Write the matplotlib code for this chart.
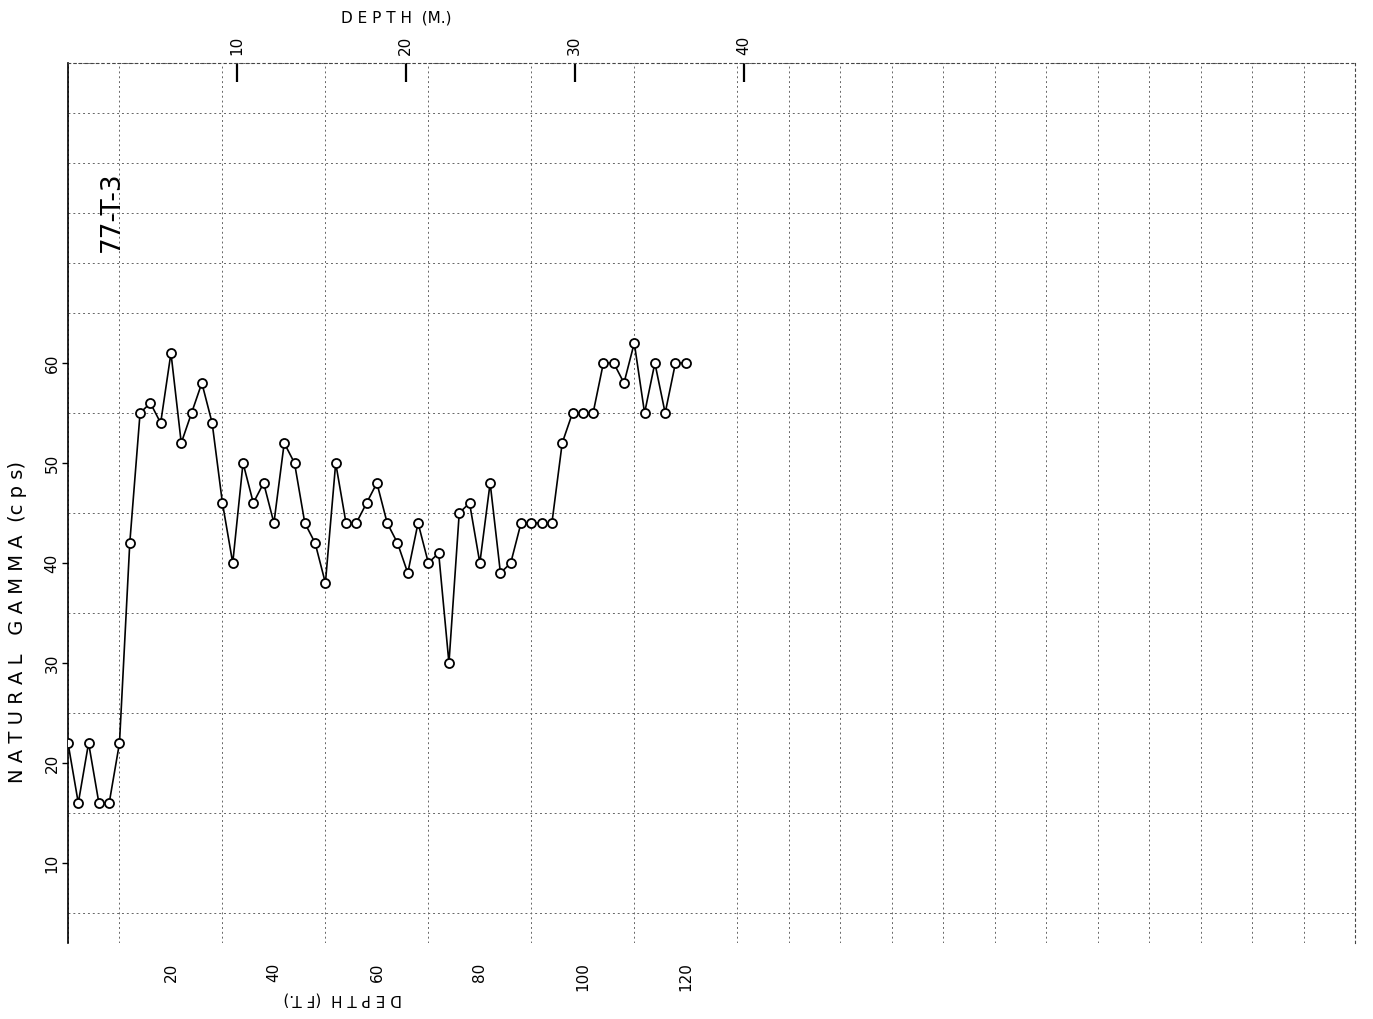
import numpy as np
import matplotlib
matplotlib.use('Agg')
import matplotlib.pyplot as plt

# ================== DATA ==================
# depth in feet, one reading every 2 ft
DEPTH_FT = list(range(0, 122, 2))
GAMMA_CPS = [22, 16, 22, 16, 16, 22, 42, 55, 56, 54,
             61, 52, 55, 58, 54, 46, 40, 50, 46, 48,
             44, 52, 50, 44, 42, 38, 50, 44, 44, 46,
             48, 44, 42, 39, 44, 40, 41, 30, 45, 46,
             40, 48, 39, 40, 44, 44, 44, 44, 52, 55,
             55, 55, 60, 60, 58, 62, 55, 60, 55, 60,
             60]

FT_TICKS = [20, 40, 60, 80, 100, 120]
M_TICKS = [10, 20, 30, 40]
GAMMA_TICKS = [10, 20, 30, 40, 50, 60]
HOLE_ID = '77-T-3'

FT_PER_M = 3.28084
W, H = 1373, 1019


def ft2m(x):
    return np.asarray(x) / FT_PER_M


def m2ft(x):
    return np.asarray(x) * FT_PER_M


# ================== FIGURE ==================
fig = plt.figure(figsize=(W / 100, H / 100), dpi=100)
ax = fig.add_axes([68 / W, 1 - 943 / H, (1355 - 68) / W, (943 - 63) / H])

ax.plot(DEPTH_FT, GAMMA_CPS, color='black', linewidth=1.2,
        marker='o', markersize=6.5, markerfacecolor='white',
        markeredgecolor='black', markeredgewidth=1.3, zorder=3)

ax.set_xlim(0, 250)
ax.set_ylim(2, 90)

# grid: every 10 ft and every 5 cps
ax.set_xticks(np.arange(0, 251, 10), minor=True)
ax.set_yticks(np.arange(5, 91, 5), minor=True)
ax.grid(which='minor', color='#666666', linestyle=(0, (2, 3)), linewidth=0.7)
ax.tick_params(which='minor', length=0)

ax.set_xticks(FT_TICKS)
ax.set_xticklabels([str(v) for v in FT_TICKS], rotation=90, fontsize=11)
ax.set_yticks(GAMMA_TICKS)
ax.set_yticklabels([str(v) for v in GAMMA_TICKS], rotation=90, fontsize=11, va='center')
ax.tick_params(axis='x', which='major', length=0, pad=14)
ax.tick_params(axis='y', which='major', direction='out', length=4, width=1, pad=2)

for side in ['top', 'right']:
    ax.spines[side].set_linestyle((0, (2, 3)))
    ax.spines[side].set_linewidth(0.8)
    ax.spines[side].set_color('#444444')
ax.spines['bottom'].set_visible(False)
ax.spines['left'].set_linewidth(1.2)

# top axis in metres
top = ax.secondary_xaxis('top', functions=(ft2m, m2ft))
top.set_xticks(M_TICKS)
top.set_xticklabels([str(v) for v in M_TICKS], rotation=90, fontsize=11)
top.tick_params(direction='in', length=14, width=1.6, pad=6)
top.spines['top'].set_visible(False)

# axis titles
fig.text(396 / W, 1 - 18 / H, 'D E P T H  (M.)', ha='center', va='center', fontsize=11)
fig.text(343 / W, 1 - 999 / H, 'D E P T H  (F T.)', ha='center', va='center',
         fontsize=11, rotation=180)
fig.text(18 / W, 1 - 622 / H, 'N A T U R A L   G A M M A  (c p s)', ha='center',
         va='center', fontsize=14, rotation=90)

# hole id
fig.text(112 / W, 1 - 212 / H, HOLE_ID, fontsize=19, rotation=90, ha='center', va='center')

fig.savefig('out.png', dpi=100)
